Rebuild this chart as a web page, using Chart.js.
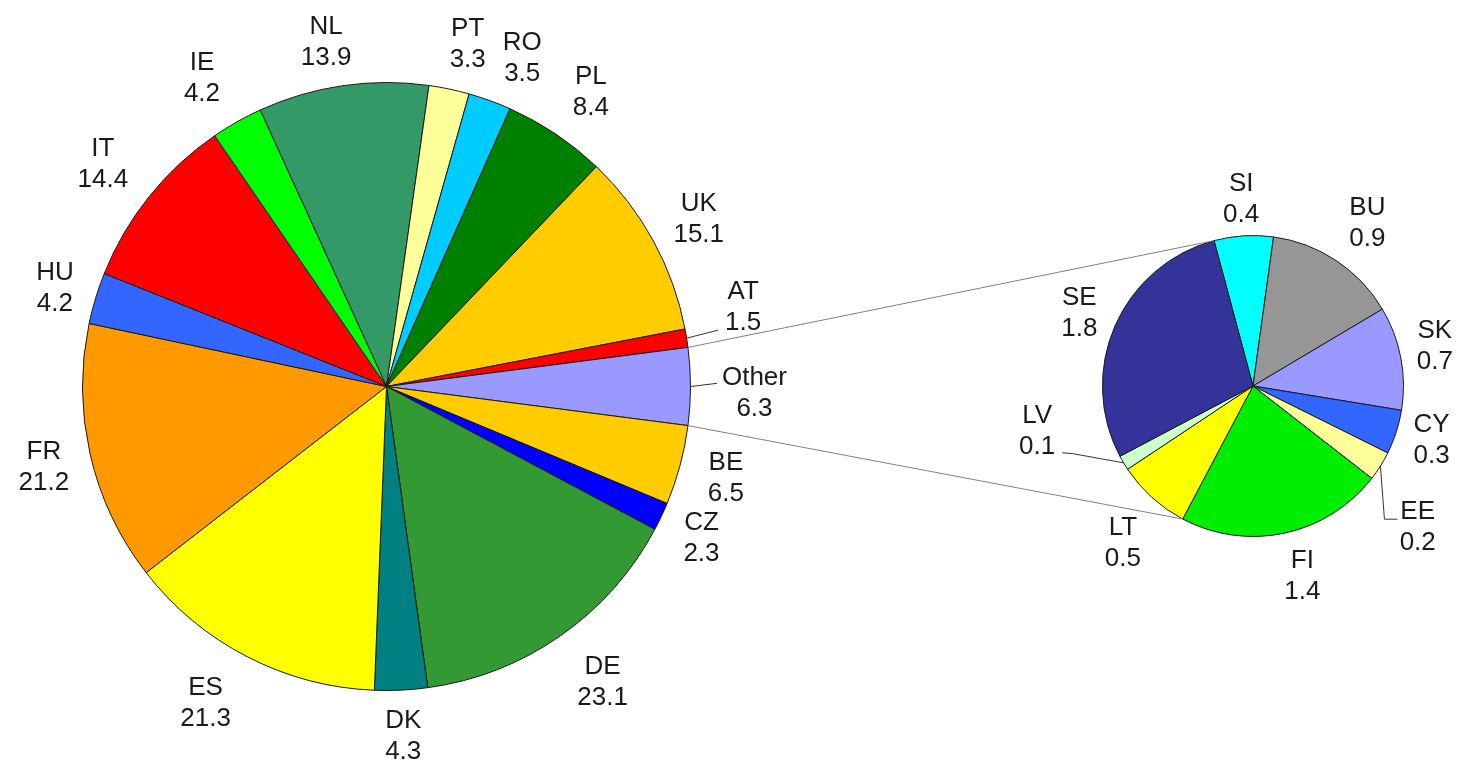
<!DOCTYPE html>
<html>
<head>
<meta charset="utf-8">
<title>Pie of pie</title>
<script src="https://cdn.jsdelivr.net/npm/chart.js"></script>
<style>
  body { margin: 0; background: #fff; }
  #wrap { position: relative; width: 1460px; height: 768px; }
  #wrap canvas { position: absolute; left: 0; top: 0; }
</style>
</head>
<body>
<div id="wrap">
  <canvas id="main" width="1460" height="768"></canvas>
  <canvas id="other" width="1460" height="768"></canvas>
</div>
<script>
// main pie, clockwise from the top
const mainLabels = ['NL', 'PT', 'RO', 'PL', 'UK', 'AT', 'Other', 'BE', 'CZ', 'DE', 'DK', 'ES', 'FR', 'HU', 'IT', 'IE'];
const mainValues = [13.9, 3.3, 3.5, 8.4, 15.1, 1.5, 6.3, 6.5, 2.3, 23.1, 4.3, 21.3, 21.2, 4.2, 14.4, 4.2];

// breakdown of "Other"
const otherLabels = ['SI', 'BU', 'SK', 'CY', 'EE', 'FI', 'LT', 'LV', 'SE'];
const otherValues = [0.4, 0.9, 0.7, 0.3, 0.2, 1.4, 0.5, 0.1, 1.8];

const mainColors = ['#339966', '#FFFF99', '#00CCFF', '#008000', '#FFCC00', '#FF0000', '#9999FF', '#FFCC00',
                    '#0000FF', '#339933', '#008080', '#FFFF00', '#FF9900', '#3366FF', '#FF0000', '#00FF00'];
const otherColors = ['#00FFFF', '#969696', '#9999FF', '#3366FF', '#FFFF99', '#00EE00', '#FFFF00', '#CCFFCC', '#333399'];

const FONT = '26px "Liberation Sans", Arial, sans-serif';
const TEXT = '#1a1a1a';
const rad = d => (d - 90) * Math.PI / 180;

// small hand nudges for label text (px)
const nudge = {
  NL: [-10, 0], IE: [-11, -4], IT: [-5, -2], ES: [-18, -2], DE: [12, 0], PT: [9, -2], RO: [16, 0],
  PL: [8, -4], BE: [6, 0], BU: [7, -4], SK: [0, -8], CY: [0, -6], FI: [9, 0], LT: [0, 11]
};

// labels that sit away from their slice, with a leader line
const leaders = {
  AT:    { angle: 77,    dist: 366, to: (b, e) => [[b.left2 - 7, b.cy + 26]] },
  Other: { angle: 90.6,  dist: 368, to: (b, e) => [[b.left1 - 5, b.cy - 7]] },
  EE:    { angle: 130,   dist: 215, to: (b, e) => [[e[0] + 4, b.cy - 5], [b.left1 - 3, b.cy - 5]] },
  LV:    { angle: 258.8, dist: 220, to: (b, e) => [[b.right2 + 18, b.cy + 25], [b.right2 + 7, b.cy + 24]] }
};

function drawLabels(chart, gap) {
  const ctx = chart.ctx;
  const meta = chart.getDatasetMeta(0);
  const names = chart.data.labels;
  const vals = chart.data.datasets[0].data;
  ctx.save();
  ctx.font = FONT;
  ctx.fillStyle = TEXT;
  ctx.textAlign = 'center';
  meta.data.forEach((arc, i) => {
    const p = arc.getProps(['x', 'y', 'startAngle', 'endAngle', 'outerRadius'], true);
    const mid = (p.startAngle + p.endAngle) / 2;
    const name = names[i];
    const val = vals[i].toFixed(1);
    const w1 = ctx.measureText(name).width;
    const w2 = ctx.measureText(val).width;
    const hw = Math.max(w1, w2) / 2;
    const lead = leaders[name];
    let cx, cy;
    if (lead) {
      cx = p.x + lead.dist * Math.cos(rad(lead.angle));
      cy = p.y + lead.dist * Math.sin(rad(lead.angle));
    } else {
      const c = Math.cos(mid), s = Math.sin(mid);
      const r = p.outerRadius + gap + hw * Math.abs(c) + 26 * Math.abs(s);
      cx = p.x + r * c;
      cy = p.y + r * s;
      if (nudge[name]) { cx += nudge[name][0]; cy += nudge[name][1]; }
    }
    ctx.fillText(name, cx, cy - 5.5);
    ctx.fillText(val, cx, cy + 25.5);
    if (lead) {
      const edge = [p.x + p.outerRadius * Math.cos(mid), p.y + p.outerRadius * Math.sin(mid)];
      const box = { cx, cy, left1: cx - w1 / 2, left2: cx - w2 / 2, right2: cx + w2 / 2 };
      ctx.save();
      ctx.strokeStyle = '#333';
      ctx.lineWidth = 1;
      ctx.beginPath();
      ctx.moveTo(edge[0], edge[1]);
      lead.to(box, edge).forEach(pt => ctx.lineTo(pt[0], pt[1]));
      ctx.stroke();
      ctx.restore();
    }
  });
  ctx.restore();
}

function arcPoint(p, angle) {
  return [p.x + p.outerRadius * Math.cos(angle), p.y + p.outerRadius * Math.sin(angle)];
}

// turn the main pie so that "Other" points straight right
const total = mainValues.reduce((a, b) => a + b, 0);
const otherIdx = mainLabels.indexOf('Other');
const before = mainValues.slice(0, otherIdx).reduce((a, b) => a + b, 0);
const mainRotation = 90 - (before + mainValues[otherIdx] / 2) / total * 360;

const mainChart = new Chart(document.getElementById('main'), {
  type: 'pie',
  data: {
    labels: mainLabels,
    datasets: [{
      data: mainValues,
      backgroundColor: mainColors,
      borderColor: '#1a1a1a',
      borderWidth: 1
    }]
  },
  options: {
    responsive: false,
    animation: false,
    events: [],
    rotation: mainRotation,
    layout: { padding: { left: 82, right: 769, top: 82, bottom: 77 } },
    plugins: { legend: { display: false }, tooltip: { enabled: false } }
  },
  plugins: [{ id: 'mainLabels', afterDraw: chart => drawLabels(chart, 17) }]
});

new Chart(document.getElementById('other'), {
  type: 'pie',
  data: {
    labels: otherLabels,
    datasets: [{
      data: otherValues,
      backgroundColor: otherColors,
      borderColor: '#1a1a1a',
      borderWidth: 1
    }]
  },
  options: {
    responsive: false,
    animation: false,
    events: [],
    rotation: -15,
    layout: { padding: { left: 1102, right: 56, top: 235, bottom: 231 } },
    plugins: { legend: { display: false }, tooltip: { enabled: false } }
  },
  plugins: [{
    id: 'connectors',
    afterDraw(chart) {
      const ctx = chart.ctx;
      const m = mainChart.getDatasetMeta(0).data[otherIdx].getProps(['x', 'y', 'startAngle', 'endAngle', 'outerRadius'], true);
      const sub = chart.getDatasetMeta(0).data;
      const first = sub[0].getProps(['x', 'y', 'startAngle', 'endAngle', 'outerRadius'], true);
      const fi = sub[otherLabels.indexOf('FI')].getProps(['x', 'y', 'startAngle', 'endAngle', 'outerRadius'], true);
      const a1 = arcPoint(m, m.startAngle), b1 = arcPoint(first, first.startAngle);
      const a2 = arcPoint(m, m.endAngle), b2 = arcPoint(fi, fi.endAngle);
      ctx.save();
      ctx.strokeStyle = '#808080';
      ctx.lineWidth = 1;
      ctx.beginPath();
      ctx.moveTo(a1[0], a1[1]); ctx.lineTo(b1[0], b1[1]);
      ctx.moveTo(a2[0], a2[1]); ctx.lineTo(b2[0], b2[1]);
      ctx.stroke();
      ctx.restore();
      drawLabels(chart, 12);
    }
  }]
});
</script>
</body>
</html>
